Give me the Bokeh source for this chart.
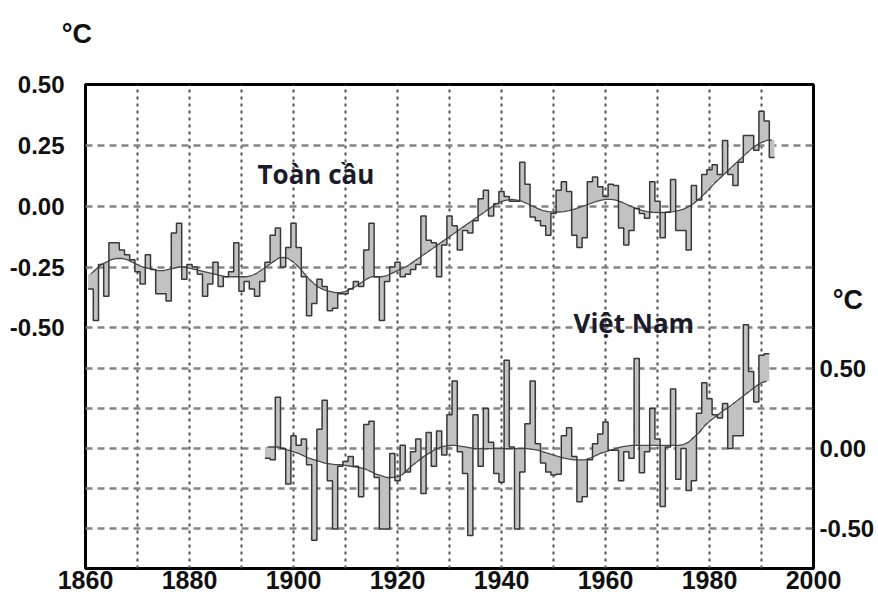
import numpy as np
from bokeh.plotting import figure
from bokeh.models import Range1d, LinearAxis, FixedTicker, Grid, Label, NumeralTickFormatter
from bokeh.embed import file_html
from bokeh.resources import INLINE

# ---------------- data ----------------
global_years = list(range(1861, 1993))
global_anom = [
    -0.34, -0.47, -0.24, -0.37, -0.15, -0.15, -0.18, -0.20, -0.22,          # 1861-1869
    -0.27, -0.32, -0.20, -0.26, -0.36, -0.36, -0.39, -0.11, -0.07, -0.30,   # 1870-1879
    -0.24, -0.25, -0.28, -0.37, -0.32, -0.23, -0.33, -0.29, -0.27, -0.15,   # 1880-1889
    -0.35, -0.31, -0.34, -0.37, -0.31, -0.23, -0.12, -0.09, -0.25, -0.17,   # 1890-1899
    -0.07, -0.17, -0.29, -0.45, -0.40, -0.30, -0.33, -0.43, -0.42, -0.36,   # 1900-1909
    -0.36, -0.34, -0.31, -0.33, -0.18, -0.07, -0.29, -0.47, -0.31, -0.25,   # 1910-1919
    -0.23, -0.29, -0.28, -0.26, -0.24, -0.04, -0.14, -0.15, -0.29, -0.16,   # 1920-1929
    -0.04, -0.08, -0.18, -0.10, -0.11, -0.06, 0.03, 0.065, -0.04, 0.01,     # 1930-1939
    0.06, 0.04, 0.02, 0.02, 0.18, 0.09, -0.045, -0.06, -0.08, -0.12,        # 1940-1949
    -0.03, 0.065, 0.10, 0.06, -0.12, -0.17, -0.13, 0.10, 0.12, 0.08,        # 1950-1959
    0.04, 0.09, 0.085, -0.09, -0.16, -0.10, -0.01, -0.03, -0.05, 0.10,      # 1960-1969
    0.02, -0.13, -0.025, 0.11, -0.10, -0.10, -0.18, 0.085, 0.025, 0.13,     # 1970-1979
    0.15, 0.17, 0.13, 0.27, 0.13, 0.085, 0.18, 0.29, 0.29, 0.23,            # 1980-1989
    0.39, 0.35, 0.20,                                                       # 1990-1992
]
global_smooth = [
    -0.28, -0.26, -0.24, -0.23, -0.22, -0.215, -0.215, -0.22, -0.23,
    -0.24, -0.25, -0.255, -0.26, -0.265, -0.265, -0.26, -0.255, -0.25, -0.25,
    -0.255, -0.26, -0.265, -0.27, -0.275, -0.28, -0.285, -0.29, -0.29, -0.29,
    -0.29, -0.29, -0.285, -0.275, -0.26, -0.245, -0.23, -0.215, -0.21, -0.215,
    -0.23, -0.25, -0.275, -0.30, -0.32, -0.335, -0.345, -0.35, -0.355, -0.355,
    -0.35, -0.34, -0.33, -0.315, -0.30, -0.29, -0.29, -0.29, -0.285, -0.275,
    -0.265, -0.255, -0.245, -0.23, -0.215, -0.20, -0.185, -0.17, -0.155, -0.14,
    -0.125, -0.11, -0.095, -0.08, -0.065, -0.05, -0.035, -0.02, -0.005, 0.01,
    0.02, 0.025, 0.028, 0.025, 0.02, 0.01, 0.0, -0.01, -0.018, -0.022,
    -0.024, -0.024, -0.022, -0.018, -0.012, -0.005, 0.002, 0.01, 0.018, 0.024,
    0.028, 0.028, 0.025, 0.018, 0.008, -0.002, -0.01, -0.017, -0.022, -0.025,
    -0.026, -0.026, -0.025, -0.022, -0.018, -0.012, -0.002, 0.012, 0.03, 0.05,
    0.072, 0.095, 0.115, 0.135, 0.155, 0.175, 0.195, 0.215, 0.235, 0.25,
    0.262, 0.27, 0.272,
]

vn_years = list(range(1895, 1992))
vn_anom = [
    -0.06, -0.07, 0.32, 0.00, -0.22,                                        # 1895-1899
    0.08, 0.02, 0.06, -0.10, -0.57, 0.12, 0.30, -0.20, -0.50, -0.11,        # 1900-1909
    -0.08, -0.05, -0.11, -0.30, 0.15, 0.17, -0.18, -0.50, -0.50, -0.03,     # 1910-1919
    -0.20, 0.02, -0.145, -0.02, 0.06, -0.28, 0.10, -0.11, 0.11, -0.04,      # 1920-1929
    0.21, 0.42, -0.02, -0.155, -0.54, 0.21, -0.11, 0.25, 0.04, -0.155,      # 1930-1939
    -0.21, 0.55, 0.01, -0.50, -0.145, 0.155, 0.42, 0.03, -0.09, -0.145,     # 1940-1949
    -0.165, -0.16, 0.08, 0.13, -0.05, -0.33, -0.30, -0.07, 0.03, 0.09,      # 1950-1959
    0.165, -0.01, -0.01, -0.20, -0.02, -0.06, 0.56, -0.15, -0.02, 0.25,     # 1960-1969
    0.06, -0.36, 0.01, 0.37, -0.19, 0.00, -0.26, -0.20, 0.22, 0.41,         # 1970-1979
    0.31, 0.21, 0.19, 0.28, 0.00, 0.08, 0.08, 0.77, 0.48, 0.29,             # 1980-1989
    0.58, 0.59,                                                             # 1990-1991
]
vn_smooth = [
    0.01, 0.01, 0.01, 0.0, -0.01,
    -0.02, -0.03, -0.045, -0.06, -0.07, -0.08, -0.09, -0.095, -0.10, -0.10,
    -0.105, -0.11, -0.115, -0.12, -0.13, -0.145, -0.16, -0.17, -0.18, -0.18,
    -0.175, -0.16, -0.13, -0.10, -0.075, -0.05, -0.03, -0.01, 0.005, 0.015,
    0.02, 0.02, 0.015, 0.01, 0.005, 0.0, 0.0, 0.0, 0.0, 0.0,
    0.0, 0.0, 0.0, 0.0, 0.0, 0.0, -0.005, -0.01, -0.02, -0.03,
    -0.04, -0.05, -0.06, -0.065, -0.07, -0.07, -0.07, -0.06, -0.045, -0.03,
    -0.02, -0.01, 0.0, 0.01, 0.015, 0.02, 0.02, 0.02, 0.02, 0.02,
    0.02, 0.02, 0.02, 0.02, 0.02, 0.025, 0.04, 0.07, 0.10, 0.14,
    0.17, 0.195, 0.22, 0.245, 0.265, 0.29, 0.315, 0.34, 0.365, 0.39,
    0.41, 0.42,
]

x_ticks = [1860, 1880, 1900, 1920, 1940, 1960, 1980, 2000]
x_grid_years = [1870, 1880, 1890, 1900, 1910, 1920, 1930, 1940, 1950, 1960, 1970, 1980, 1990]
left_ticks = [0.5, 0.25, 0.0, -0.25, -0.5]
right_ticks = [0.5, 0.0, -0.5]
global_grid = [0.25, 0.0, -0.25, -0.5]
vn_grid = [0.5, 0.25, 0.0, -0.25, -0.5]


def step_xy(years, vals):
    yrs = np.asarray(years, dtype=float)
    xs = np.column_stack([yrs - 0.5, yrs + 0.5]).ravel()
    ys = np.repeat(np.asarray(vals, dtype=float), 2)
    return xs, ys


p = figure(width=878, height=601,
           x_range=Range1d(1860, 2000), y_range=Range1d(-1.489, 0.5),
           output_backend="svg", toolbar_location=None,
           min_border_left=85, min_border_right=65,
           min_border_top=84, min_border_bottom=33)
p.extra_y_ranges = {"vn": Range1d(-0.746, 2.265)}

p.background_fill_color = "white"
p.border_fill_color = "white"
p.outline_line_color = "black"
p.outline_line_width = 3

# grids
p.xgrid.ticker = FixedTicker(ticks=x_grid_years)
p.xgrid.grid_line_color = "#505050"
p.xgrid.grid_line_width = 2
p.xgrid.grid_line_dash = "3 4"
p.ygrid.ticker = FixedTicker(ticks=global_grid)
p.ygrid.grid_line_color = "#858585"
p.ygrid.grid_line_width = 2.5
p.ygrid.grid_line_dash = "7 5"
vgrid = Grid(dimension=1, ticker=FixedTicker(ticks=vn_grid), y_range_name="vn",
             grid_line_color="#858585", grid_line_width=2.5, grid_line_dash="7 5")
p.add_layout(vgrid)

# axes
def style_axis(ax, size):
    ax.axis_line_color = None
    ax.major_tick_line_color = None
    ax.minor_tick_line_color = None
    ax.major_tick_out = 0
    ax.major_tick_in = 0
    ax.major_label_text_font = "Liberation Sans"
    ax.major_label_text_font_style = "bold"
    ax.major_label_text_font_size = size
    ax.major_label_text_color = "#111111"

xa = p.xaxis[0]
xa.ticker = FixedTicker(ticks=x_ticks)
style_axis(xa, "25px")
xa.major_label_standoff = 2

ya = p.yaxis[0]
ya.ticker = FixedTicker(ticks=left_ticks)
ya.formatter = NumeralTickFormatter(format="0.00")
style_axis(ya, "24px")
ya.major_label_standoff = 21

ra = LinearAxis(y_range_name="vn", ticker=FixedTicker(ticks=right_ticks),
                formatter=NumeralTickFormatter(format="0.00"))
style_axis(ra, "24px")
ra.major_label_standoff = 6
p.add_layout(ra, "right")

# global series
gx, gy = step_xy(global_years, global_anom)
_, gs = step_xy(global_years, global_smooth)
p.varea(x=gx, y1=gy, y2=gs, fill_color="#c2c2c2")
p.line(global_years, global_smooth, line_color="#4a4a4a", line_width=1.3)
p.line(gx, gy, line_color="#383838", line_width=1.5)

# Vietnam series
vx, vy = step_xy(vn_years, vn_anom)
_, vs = step_xy(vn_years, vn_smooth)
p.varea(x=vx, y1=vy, y2=vs, fill_color="#c2c2c2", y_range_name="vn")
p.line(vn_years, vn_smooth, line_color="#4a4a4a", line_width=1.3, y_range_name="vn")
p.line(vx, vy, line_color="#383838", line_width=1.5, y_range_name="vn")

# series names (inside the frame)
txt = dict(text_font="Open Sans", text_font_style="bold", text_font_size="26px",
           text_color="#1b1b2b", text_baseline="alphabetic")
p.add_layout(Label(x=1893.08, y=0.134, text="Toàn cầu", **txt))
p.add_layout(Label(x=1953.85, y=-0.482, text="Việt Nam", **txt))

# unit labels (outside the frame -> side panel, so they are not clipped)
unit = dict(text_font="Liberation Sans", text_font_style="bold", text_color="#111111",
            text_baseline="alphabetic", text_font_size="27px")
p.add_layout(Label(x=1855.42, y=0.7055, text="°C", **unit), "above")
p.add_layout(Label(x=2003.69, y=-0.3837, text="°C", **unit), "above")

open("out.html", "w").write(file_html(p, INLINE, title="Nhiệt độ"))
